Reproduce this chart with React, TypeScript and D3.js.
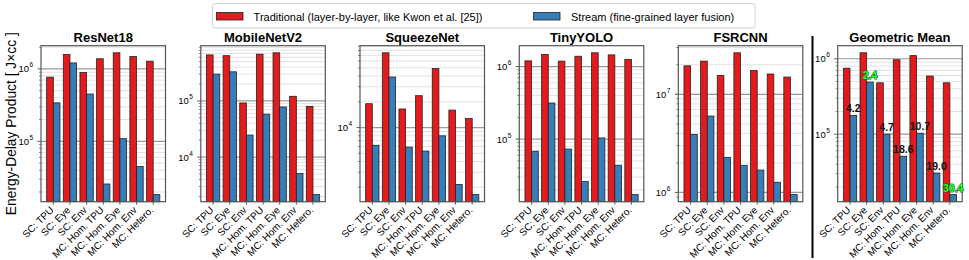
import * as d3 from "d3";

// categories shared by all panels
const categories = ["SC: TPU", "SC: Eye", "SC: Env", "MC: Hom. TPU", "MC: Hom. Eye", "MC: Hom. Env", "MC: Hetero."];

// energy-delay product per network (traditional vs stream)
const resnetTrad = [7.7e5, 1.58e6, 8.9e5, 1.38e6, 1.67e6, 1.48e6, 1.28e6];
const resnetStream = [3.4e5, 1.21e6, 4.5e5, 2.58e4, 1.09e5, 4.5e4, 1.84e4];
const mobilenetTrad = [6.6e5, 6.4e5, 9.2e4, 6.8e5, 7.2e5, 1.21e5, 8.0e4];
const mobilenetStream = [3.0e5, 3.3e5, 2.47e4, 5.8e4, 7.8e4, 5.1e3, 2.15e3];
const squeezeTrad = [1.9e4, 7.5e4, 1.65e4, 2.36e4, 4.9e4, 1.6e4, 1.28e4];
const squeezeStream = [6.2e3, 3.9e4, 5.9e3, 5.3e3, 8.0e3, 2.16e3, 1.64e3];
const yoloTrad = [1.2e6, 1.47e6, 1.19e6, 1.39e6, 1.55e6, 1.45e6, 1.26e6];
const yoloStream = [6.8e4, 3.15e5, 7.3e4, 2.6e4, 1.04e5, 4.37e4, 1.72e4];
const fsrcnnTrad = [1.95e7, 2.18e7, 1.56e7, 2.65e7, 1.75e7, 1.61e7, 1.5e7];
const fsrcnnStream = [3.9e6, 6.0e6, 2.28e6, 1.89e6, 1.69e6, 1.27e6, 9.5e5];
const geoTrad = [7.5e5, 1.2e6, 4.8e5, 9.7e5, 1.1e6, 5.9e5, 4.8e5];
const geoStream = [1.77e5, 4.9e5, 1.0e5, 5.1e4, 1.03e5, 3.05e4, 1.58e4];

// speedup labels on the geometric mean panel
const speedupLabels = ["4.2", "2.4", "4.7", "18.6", "10.7", "19.0", "30.4"];
const speedupHighlight = [false, true, false, false, false, false, true];

const legendLabels = ["Traditional (layer-by-layer, like Kwon et al. [25])", "Stream (fine-grained layer fusion)"];

const RED = "#e41a1c";
const BLUE = "#377eb8";
const FONT = "'Liberation Sans', Arial, Helvetica, sans-serif";

const panels = [
  { title: "ResNet18", trad: resnetTrad, stream: resnetStream, left: 41 },
  { title: "MobileNetV2", trad: mobilenetTrad, stream: mobilenetStream, left: 200.8 },
  { title: "SqueezeNet", trad: squeezeTrad, stream: squeezeStream, left: 360 },
  { title: "TinyYOLO", trad: yoloTrad, stream: yoloStream, left: 519.3 },
  { title: "FSRCNN", trad: fsrcnnTrad, stream: fsrcnnStream, left: 678.3 },
  { title: "Geometric Mean", trad: geoTrad, stream: geoStream, left: 837.7, labels: true },
];

const TOP = 45.7;
const BOTTOM = 201.7;
const WIDTH = 124.5;

const Panel = ({ p }: any) => {
  const all = [...p.trad, ...p.stream];
  const lo = Math.log10(d3.min(all) as number);
  const hi = Math.log10(d3.max(all) as number);
  const m = (hi - lo) * 0.05;
  const y = d3.scaleLog().domain([10 ** (lo - m), 10 ** (hi + m)]).range([BOTTOM, TOP]);
  const x = d3.scaleLinear().domain([-0.74, 6.74]).range([p.left, p.left + WIDTH]);

  const majors: number[] = [];
  const minors: number[] = [];
  for (let d = Math.floor(lo - m); d <= Math.ceil(hi + m); d++) {
    for (let k = 1; k < 10; k++) {
      const v = k * 10 ** d;
      if (v < 10 ** (lo - m) || v > 10 ** (hi + m)) continue;
      (k === 1 ? majors : minors).push(v);
    }
  }

  return (
    <g>
      {minors.map((v, i) => (
        <line key={"mn" + i} x1={p.left} x2={p.left + WIDTH} y1={y(v)} y2={y(v)} stroke="#d9d9d9" strokeWidth={0.8} />
      ))}
      {majors.map((v, i) => (
        <line key={"mj" + i} x1={p.left} x2={p.left + WIDTH} y1={y(v)} y2={y(v)} stroke="#999" strokeWidth={1.2} />
      ))}
      {categories.map((c, i) => (
        <g key={c}>
          <rect x={x(i - 0.4)} y={y(p.trad[i])} width={x(i) - x(i - 0.4)} height={BOTTOM - y(p.trad[i])}
            fill={RED} stroke="#222" strokeWidth={0.8} />
          <rect x={x(i)} y={y(p.stream[i])} width={x(i + 0.4) - x(i)} height={BOTTOM - y(p.stream[i])}
            fill={BLUE} stroke="#222" strokeWidth={0.8} />
          <line x1={x(i)} x2={x(i)} y1={BOTTOM} y2={BOTTOM + 3} stroke="#333" strokeWidth={0.8} />
          <text transform={`translate(${x(i) + 1},${BOTTOM + 9}) rotate(-45)`} textAnchor="end"
            fontSize={10} fontFamily={FONT} fill="#000">{c}</text>
        </g>
      ))}
      {minors.map((v, i) => (
        <line key={"mt" + i} x1={p.left - 2} x2={p.left} y1={y(v)} y2={y(v)} stroke="#333" strokeWidth={0.6} />
      ))}
      {majors.map((v, i) => (
        <g key={"ml" + i}>
          <line x1={p.left - 3.5} x2={p.left} y1={y(v)} y2={y(v)} stroke="#333" strokeWidth={0.8} />
          <text x={p.left - 12} y={y(v) + 3.5} textAnchor="end" fontSize={9.5} fontFamily={FONT}>10</text>
          <text x={p.left - 11.5} y={y(v) - 1.5} textAnchor="start" fontSize={6.5} fontFamily={FONT}>
            {Math.round(Math.log10(v))}
          </text>
        </g>
      ))}
      <rect x={p.left} y={TOP} width={WIDTH} height={BOTTOM - TOP} fill="none" stroke="#555" strokeWidth={1.2} />
      <text x={p.left + WIDTH / 2} y={42} textAnchor="middle" fontSize={13} fontWeight="bold" fontFamily={FONT}>
        {p.title}
      </text>
      {p.labels && speedupLabels.map((s, i) => (
        <text key={"s" + i} x={x(i + 0.2)} y={y(p.stream[i]) - 3} textAnchor="middle" fontSize={10.5}
          fontWeight="bold" fontFamily={FONT}
          fill={speedupHighlight[i] ? "#33ff22" : "#111"}
          stroke={speedupHighlight[i] ? "#053" : "none"} strokeWidth={speedupHighlight[i] ? 1.1 : 0}
          style={{ paintOrder: "stroke" }}>{s}</text>
      ))}
    </g>
  );
};

export default function App() {
  return (
    <div style={{ position: "absolute", left: 0, top: 0 }}>
      <svg width={969} height={260} style={{ display: "block", background: "#fff" }}>
        <rect x={212.5} y={3.5} width={542.5} height={24.5} rx={3} fill="#fff" stroke="#d0d0d0" strokeWidth={1} />
        <rect x={216.5} y={12.5} width={26.5} height={7.5} fill={RED} stroke="#222" strokeWidth={0.8} />
        <text x={253.6} y={20.5} fontSize={11} fontFamily={FONT}>{legendLabels[0]}</text>
        <rect x={533.5} y={12.5} width={26.5} height={7.5} fill={BLUE} stroke="#222" strokeWidth={0.8} />
        <text x={571} y={20.5} fontSize={11} fontFamily={FONT}>{legendLabels[1]}</text>
        <text transform={`translate(11,${(TOP + BOTTOM) / 2}) rotate(-90)`} textAnchor="middle"
          dominantBaseline="central" fontSize={13.8} fontFamily={FONT}>Energy-Delay Product [ J×cc ]</text>
        {panels.map((p) => <Panel key={p.title} p={p} />)}
        <line x1={812.5} x2={812.5} y1={36} y2={258} stroke="#000" strokeWidth={2} />
      </svg>
    </div>
  );
}
